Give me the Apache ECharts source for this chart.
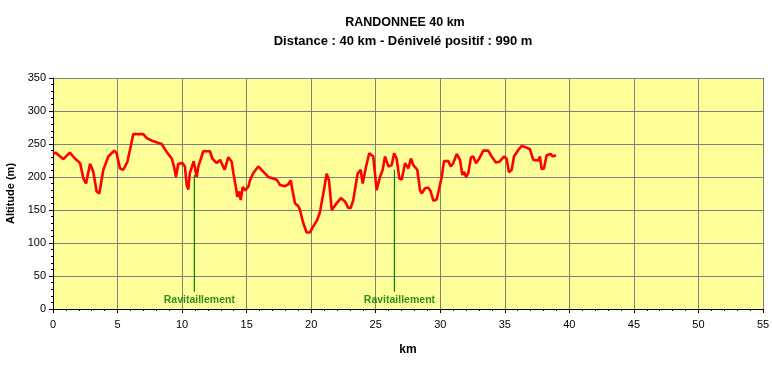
<!DOCTYPE html>
<html><head><meta charset="utf-8">
<script src="https://cdn.jsdelivr.net/npm/echarts@6/dist/echarts.min.js"></script>
<style>html,body{margin:0;padding:0;background:#fff}#c{width:773px;height:365px}</style>
</head><body><div id="c"></div>
<script>
const titleText = 'RANDONNEE 40 km';
const subtitleText = 'Distance : 40 km - Dénivelé positif : 990 m';
const km = [0,0.2,0.8,1.3,1.7,2.1,2.35,2.56,2.87,3.12,3.38,3.59,3.9,4.29,4.75,4.93,5.19,5.45,5.76,5.96,6.22,7.0,7.26,7.77,8.42,8.8,9.2,9.37,9.53,9.7,10.04,10.22,10.35,10.48,10.6,10.9,11.13,11.26,11.64,12.16,12.34,12.68,12.94,13.3,13.58,13.84,13.97,14.18,14.28,14.43,14.54,14.7,14.87,15.13,15.26,15.52,15.9,16.29,16.68,17.33,17.58,17.97,18.23,18.41,18.57,18.75,19.0,19.13,19.39,19.65,19.9,20.16,20.47,20.68,20.94,21.2,21.38,21.59,21.71,21.97,22.3,22.62,22.87,23.06,23.26,23.45,23.6,23.83,23.99,24.25,24.5,24.81,25.07,25.33,25.54,25.72,25.98,26.24,26.42,26.62,26.83,27.01,27.27,27.53,27.73,27.91,28.22,28.43,28.56,28.82,29.07,29.26,29.46,29.72,29.92,30.11,30.29,30.62,30.81,31.01,31.27,31.53,31.71,31.84,32.0,32.17,32.38,32.56,32.77,33.02,33.33,33.72,33.98,34.31,34.57,34.93,35.14,35.32,35.53,35.71,36.04,36.3,36.64,36.95,37.2,37.59,37.72,37.85,38.03,38.24,38.55,38.71,38.96];
const altitude = [235,237,227,237,228,221,198,190,220,208,178,175,211,231,240,236,213,211,223,241,265,265,259,254,250,238,228,216,200,220,221,216,188,181,206,224,200,216,239,239,228,221,226,211,230,223,206,183,170,178,165,185,180,185,195,206,216,208,200,196,188,186,189,195,178,160,156,150,130,116,116,125,135,147,175,205,195,150,147,160,168,163,153,153,165,188,205,211,190,216,236,231,180,200,211,231,216,218,236,228,198,196,221,213,228,218,211,180,175,183,184,178,164,166,183,200,224,224,216,221,235,226,203,208,200,206,230,231,221,228,240,240,231,222,223,231,228,207,211,231,241,247,245,242,226,225,231,212,213,233,235,231,233];
const ravitKm = [10.95, 26.45];
const ravitTop = [203, 211];
const ravitBottom = 26;
const ravitLabel = 'Ravitaillement';
const xTicks = [0,5,10,15,20,25,30,35,40,45,50,55];
const yTicks = [0,50,100,150,200,250,300,350];

const FONT = '"Liberation Sans", Arial, sans-serif';
const series = [{
  type: 'line', data: km.map((k,i)=>[k, altitude[i]]), symbol: 'none',
  lineStyle: {color: '#ff0000', width: 2.6}, z: 5, animation: false
}];
ravitKm.forEach((k,i)=>{
  series.push({
    type: 'line', data: [[k, ravitBottom],[k, ravitTop[i]]], symbol: 'none',
    lineStyle: {color: '#008000', width: 1.2}, z: 3, animation: false
  });
  series.push({
    type: 'scatter', data: [[k, 14]], symbolSize: 0, z: 4, animation: false,
    label: {show: true, position: 'inside', offset: [5, 0], formatter: ravitLabel,
      color: '#007000', fontFamily: FONT, fontWeight: 'bold', fontSize: 10.5}
  });
});

const chart = echarts.init(document.getElementById('c'), null, {renderer: 'canvas'});
chart.setOption({
  backgroundColor: '#ffffff',
  animation: false,
  title: [
    {text: titleText, left: 400, top: 11, textAlign: 'center',
     textStyle: {fontFamily: FONT, fontWeight: 'bold', fontSize: 12.5, color: '#000'}},
    {text: subtitleText, left: 398, top: 30, textAlign: 'center',
     textStyle: {fontFamily: FONT, fontWeight: 'bold', fontSize: 13, color: '#000'}}
  ],
  grid: {left: 53, right: 10, top: 78, bottom: 56, show: true, backgroundColor: '#ffff99', borderWidth: 0,
    containLabel: false, outerBoundsMode: 'none'},
  xAxis: {
    type: 'value', min: 0, max: 55, interval: 5,
    name: 'km', nameLocation: 'middle', nameGap: 35,
    nameTextStyle: {fontFamily: FONT, fontWeight: 'bold', fontSize: 12, color: '#000'},
    axisLine: {show: true, lineStyle: {color: '#000', width: 1}},
    axisTick: {show: true, length: 4, lineStyle: {color: '#000'}},
    minorTick: {show: true, splitNumber: 5, length: 2, lineStyle: {color: '#000'}},
    axisLabel: {fontFamily: FONT, fontSize: 11, color: '#000', margin: 10,
      formatter: v => xTicks.includes(v) ? String(v) : ''},
    splitLine: {show: true, lineStyle: {color: '#808080', width: 1}}
  },
  yAxis: {
    type: 'value', min: 0, max: 350, interval: 50,
    name: 'Altitude (m)', nameLocation: 'middle', nameGap: 33, nameRotate: 90,
    nameTextStyle: {fontFamily: FONT, fontWeight: 'bold', fontSize: 11, color: '#000'},
    axisLine: {show: true, lineStyle: {color: '#000', width: 1}},
    axisTick: {show: true, length: 4, lineStyle: {color: '#000'}},
    minorTick: {show: true, splitNumber: 5, length: 2, lineStyle: {color: '#000'}},
    axisLabel: {fontFamily: FONT, fontSize: 11, color: '#000', margin: 7,
      formatter: v => yTicks.includes(v) ? String(v) : ''},
    splitLine: {show: true, lineStyle: {color: '#808080', width: 1}}
  },
  series: series
});
</script></body></html>
